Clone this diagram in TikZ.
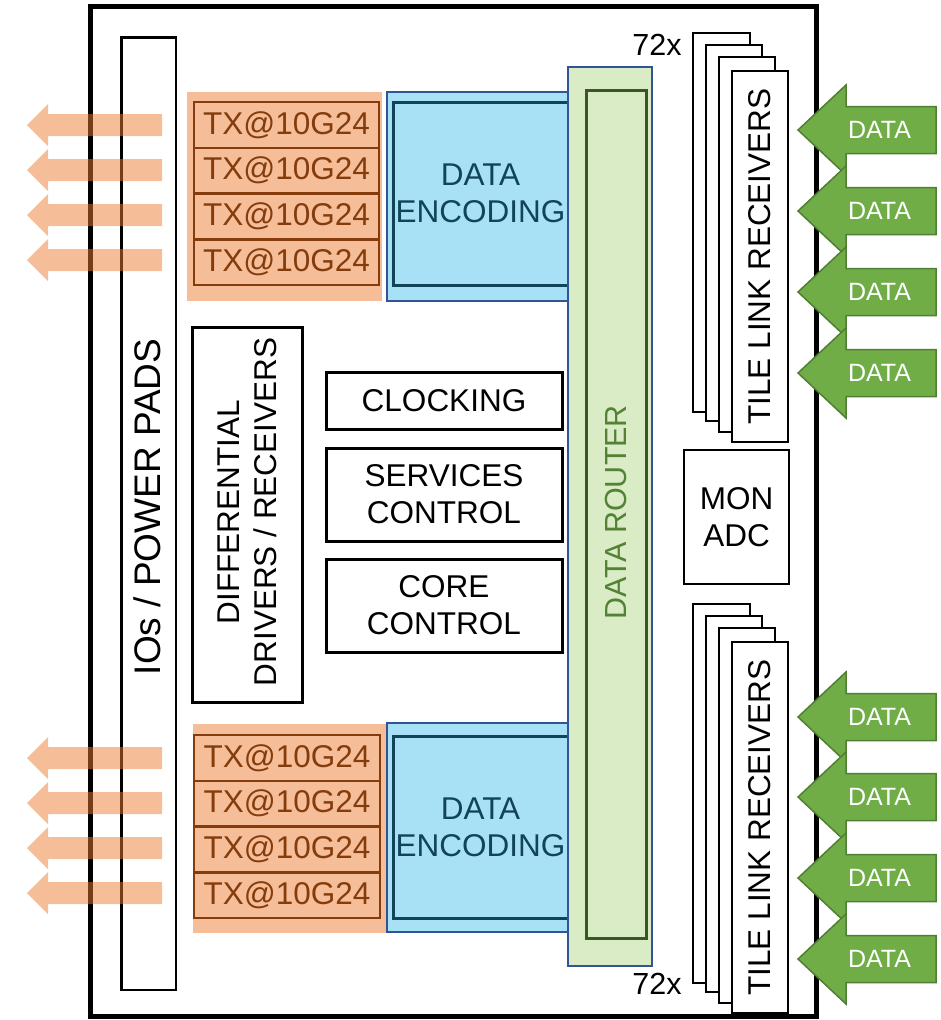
\documentclass[tikz,border=0pt]{standalone}
\usepackage{fontspec}
\setmainfont{Liberation Sans}
\definecolor{orarrow}{RGB}{237,125,49}
\definecolor{orbg}{RGB}{246,190,152}
\definecolor{brn}{RGB}{132,60,12}
\definecolor{lblue}{RGB}{168,224,246}
\definecolor{bblue}{RGB}{47,85,151}
\definecolor{encteal}{RGB}{18,68,88}
\definecolor{lgreen}{RGB}{217,236,198}
\definecolor{dgreen}{RGB}{56,87,35}
\definecolor{mgreen}{RGB}{84,130,53}
\definecolor{agreen}{RGB}{112,173,71}
\definecolor{aborder}{RGB}{80,126,50}
\begin{document}
\begin{tikzpicture}[x=1pt,y=-1pt,
  txt/.style={font=\fontsize{31.5}{37}\selectfont, align=center, inner sep=0pt},
  blk/.style={draw, line width=3pt, inner sep=0pt, fill=white, align=center, font=\fontsize{31.5}{37}\selectfont},
  thinblk/.style={blk, line width=2.5pt},
  txbox/.style={draw=brn, line width=2.5pt, fill=orbg, inner sep=0pt, text=brn, font=\fontsize{31.5}{37}\selectfont, minimum width=185pt, minimum height=45.75pt},
  encout/.style={draw=bblue, line width=1.5pt, fill=lblue, inner sep=0pt, minimum width=182pt, minimum height=209pt},
  encin/.style={draw=encteal, line width=3pt, fill=lblue, inner sep=0pt, text=encteal, align=center, font=\fontsize{31.5}{37}\selectfont, minimum width=175pt},
  tile/.style={draw, line width=2.5pt, fill=white, inner sep=0pt, minimum width=56pt},
  oarrow/.style={fill=orarrow, fill opacity=0.5},
  garrow/.style={fill=agreen, draw=aborder, line width=1.5pt, line join=miter},
]
\useasboundingbox (0,0) rectangle (940,1020);

% chip outline
\node[draw, line width=5pt, minimum width=726pt, minimum height=1010pt, inner sep=0pt] (chip) at (453,511) {};

% IO pads bar
\node[draw, line width=2.5pt, minimum width=54.5pt, minimum height=952.5pt, inner sep=0pt] (io) at (148.75,513.75) {};
\node[txt, rotate=90, font=\fontsize{37}{42}\selectfont] (iolbl) at (147,507) {IOs / POWER PADS};

% orange output arrows
\foreach \c in {125,170,215,260,758,803,848,893}{
  \path[oarrow] (27,\c) -- (48,{\c-21}) -- (48,{\c-11}) -- (162,{\c-11}) -- (162,{\c+11}) -- (48,{\c+11}) -- (48,{\c+21}) -- cycle;
}

% TX groups
\node[fill=orbg, minimum width=195pt, minimum height=209pt, inner sep=0pt] (txbgA) at (284.5,196.5) {};
\foreach \k in {0,1,2,3}{
  \node[txbox] (txA\k) at (286.5,{124.875+45.75*\k}) {TX@10G24};
}
\node[fill=orbg, minimum width=194pt, minimum height=209pt, inner sep=0pt] (txbgB) at (290,828.5) {};
\foreach \k in {0,1,2,3}{
  \node[txbox, minimum width=186pt] (txB\k) at (287,{757.875+45.75*\k}) {TX@10G24};
}

% data encoding
\node[encout] (encAo) at (478,196.5) {};
\node[encin, minimum height=183pt] (encA) at (480.5,193.5) {DATA\\ENCODING};
\node[encout] (encBo) at (478,827.5) {};
\node[encin, minimum height=182pt] (encB) at (480.5,827) {DATA\\ENCODING};

% data router
\node[draw=bblue, line width=1.5pt, fill=lgreen, minimum width=84pt, minimum height=899pt, inner sep=0pt] (routerO) at (610,516.5) {};
\node[draw=dgreen, line width=3pt, fill=lgreen, minimum width=60pt, minimum height=848pt, inner sep=0pt] (router) at (616,514) {};
\node[txt, rotate=90, text=mgreen, font=\fontsize{30.5}{36}\selectfont] (routerlbl) at (616,512) {DATA ROUTER};

% middle blocks
\node[blk, minimum width=110pt, minimum height=375pt] (diff) at (247,514.5) {};
\node[txt, rotate=90] (difflbl) at (247,512) {DIFFERENTIAL\\DRIVERS / RECEIVERS};
\node[blk, minimum width=236pt, minimum height=57pt] (clk) at (444,400.5) {CLOCKING};
\node[blk, minimum width=236pt, minimum height=93pt] (srv) at (444,494.5) {SERVICES\\CONTROL};
\node[blk, minimum width=236pt, minimum height=93pt] (core) at (444,605.5) {CORE\\CONTROL};

% tile link receivers (top)
\node[tile, minimum width=57pt, minimum height=379pt] (tA0) at (721.5,222.5) {};
\node[tile, minimum height=376pt] (tA1) at (734,233) {};
\node[tile, minimum height=375pt] (tA2) at (747,244.5) {};
\node[tile, minimum height=371pt] (tA3) at (760,256.5) {};
\node[txt, rotate=90] (tAlbl) at (760,256.5) {TILE LINK RECEIVERS};
% tile link receivers (bottom)
\node[tile, minimum width=57pt, minimum height=379pt] (tB0) at (721.5,793.5) {};
\node[tile, minimum height=376pt] (tB1) at (734,804) {};
\node[tile, minimum height=375pt] (tB2) at (747,815.5) {};
\node[tile, minimum height=371pt] (tB3) at (760,827.5) {};
\node[txt, rotate=90] (tBlbl) at (760,827.5) {TILE LINK RECEIVERS};

\node[txt, font=\fontsize{30.5}{36}\selectfont] (nA) at (657,45) {72x};
\node[txt, font=\fontsize{30.5}{36}\selectfont] (nB) at (657,984) {72x};

% monitoring ADC
\node[thinblk, minimum width=105pt, minimum height=134pt] (mon) at (736.5,517) {MON\\ADC};

% green input arrows
\foreach \c in {130,211,292,373,717,797,878,959}{
  \draw[garrow] (798,\c) -- (846,{\c-45}) -- (846,{\c-23.5}) -- (936,{\c-23.5}) -- (936,{\c+23.5}) -- (846,{\c+23.5}) -- (846,{\c+45}) -- cycle;
  \node[txt, text=white, font=\fontsize{25}{30}\selectfont] (data\c) at (879.5,\c) {DATA};
}
\end{tikzpicture}
\end{document}
